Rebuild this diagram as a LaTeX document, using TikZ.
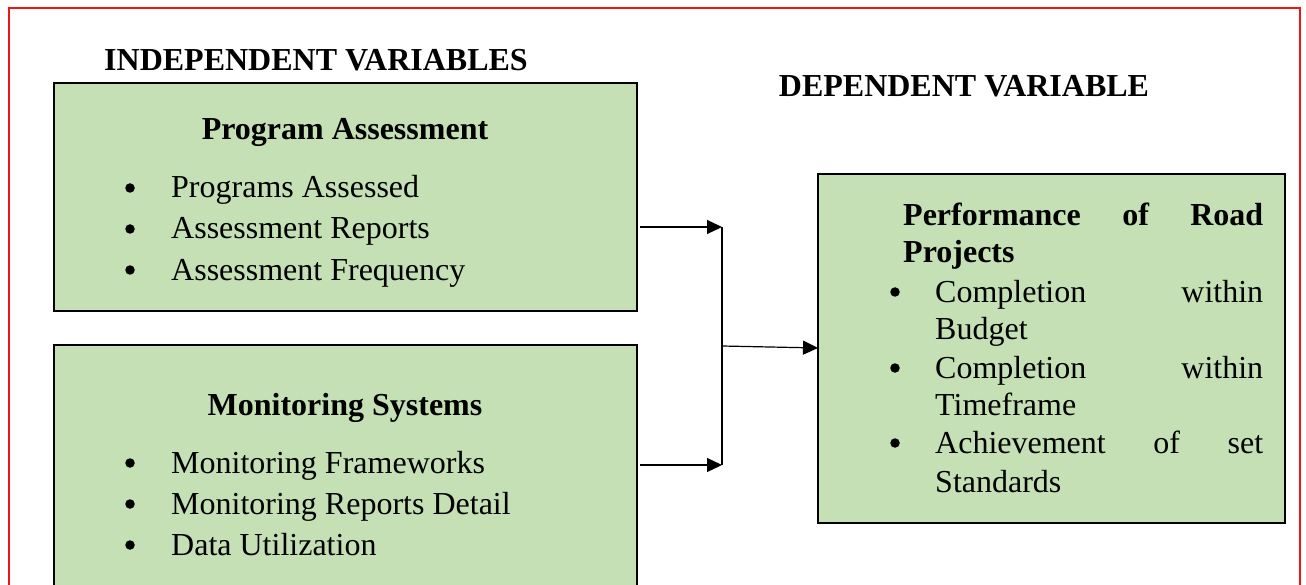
\documentclass[tikz,border=0pt]{standalone}
\usepackage{fontspec}
\setmainfont{Liberation Serif}
\usetikzlibrary{arrows.meta}
\definecolor{boxgreen}{RGB}{197,224,180}
\definecolor{frame}{RGB}{240,20,20}
\tikzset{
  box/.style={draw=black, line width=2pt, fill=boxgreen, inner sep=0pt},
  txt/.style={anchor=base west, inner sep=0pt, font=\fontsize{32}{38}\selectfont},
  ctxt/.style={anchor=base, inner sep=0pt, font=\fontsize{32}{38}\selectfont},
  dot/.style={circle, fill=black, draw=none, inner sep=0pt, minimum size=9.5pt},
  arr/.style={draw=black, line width=1.2pt, -{Triangle[length=15pt,width=14pt]}},
  link/.style={draw=black, line width=1.2pt}
}
\begin{document}
\begin{tikzpicture}[x=1pt,y=-1pt]
\useasboundingbox (0,0) rectangle (1306,585);
\clip (0,0) rectangle (1306,585);
\fill[white] (0,0) rectangle (1306,585);
\draw[frame, line width=1.6pt] (9,8) rectangle (1300,620);

% headings
\node[ctxt, font=\fontsize{32}{38}\selectfont\bfseries] (ivh) at (316,71) {INDEPENDENT VARIABLES};
\node[ctxt, font=\fontsize{32}{38}\selectfont\bfseries] (dvh) at (964,97) {DEPENDENT VARIABLE};

% boxes
\node[box, minimum width=583pt, minimum height=228pt] (pa) at (345.5,197) {};
\node[box, minimum width=583pt, minimum height=280pt] (ms) at (345.5,485) {};
\node[box, minimum width=467pt, minimum height=349pt] (perf) at (1051.5,348.5) {};

% box 1 text
\node[ctxt, font=\fontsize{32}{38}\selectfont\bfseries] (pah) at (345,140) {Program Assessment};
\node[dot] (pb1) at (130,188) {};
\node[txt] (pt1) at (171,198) {Programs Assessed};
\node[dot] (pb2) at (130,229) {};
\node[txt] (pt2) at (171,239) {Assessment Reports};
\node[dot] (pb3) at (130,270) {};
\node[txt] (pt3) at (171,280) {Assessment Frequency};

% box 2 text
\node[ctxt, font=\fontsize{32}{38}\selectfont\bfseries] (msh) at (345,415) {Monitoring Systems};
\node[dot] (mb1) at (130,463) {};
\node[txt] (mt1) at (171,473) {Monitoring Frameworks};
\node[dot] (mb2) at (130,504) {};
\node[txt] (mt2) at (171,514) {Monitoring Reports Detail};
\node[dot] (mb3) at (130,545) {};
\node[txt] (mt3) at (171,555) {Data Utilization};

% box 3 text
\node[txt, font=\fontsize{32}{38}\selectfont\bfseries] (ph1) at (903,226) {\hbox to 360pt{Performance\hfill of\hfill Road}};
\node[txt, font=\fontsize{32}{38}\selectfont\bfseries] (ph2) at (903,263) {Projects};
\node[dot] (rb1) at (895,292) {};
\node[txt] (rt1) at (935,302) {\hbox to 328pt{Completion\hfill within}};
\node[txt] (rt1b) at (935,339) {Budget};
\node[dot] (rb2) at (895,368) {};
\node[txt] (rt2) at (935,378) {\hbox to 328pt{Completion\hfill within}};
\node[txt] (rt2b) at (935,415) {Timeframe};
\node[dot] (rb3) at (895,443) {};
\node[txt] (rt3) at (935,453) {\hbox to 328pt{Achievement\hfill of\hfill set}};
\node[txt] (rt3b) at (935,492) {Standards};

% connectors
\coordinate (s1) at (640,227);
\coordinate (j1) at (722,227);
\coordinate (s2) at (640,465);
\coordinate (j2) at (722,465);
\coordinate (jm) at (722,346);
\coordinate (e3) at (818,348);
\draw[arr] (s1) -- (j1);
\draw[arr] (s2) -- (j2);
\draw[link] (j1) -- (j2);
\draw[arr] (jm) -- (e3);
\end{tikzpicture}
\end{document}
